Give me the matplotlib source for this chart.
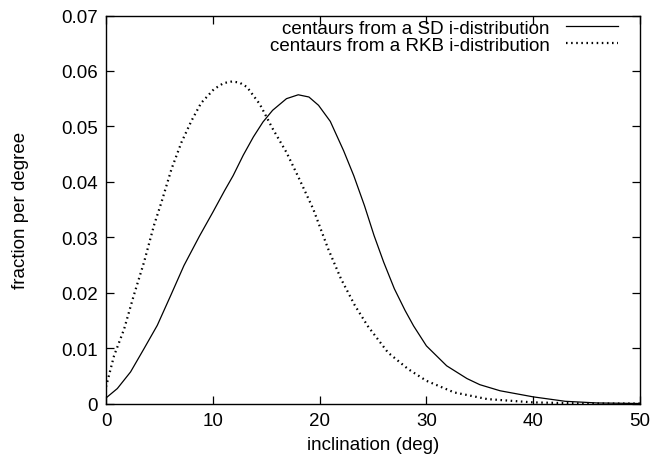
import numpy as np
import matplotlib.pyplot as plt

plt.rcParams['font.family'] = ['Liberation Sans', 'DejaVu Sans']

# values
sd_deg = [0, 1.06, 2.3, 3.56, 4.8, 6.06, 7.3, 8.75, 10, 11.1, 11.9, 12.85, 13.8, 14.7, 15.6,
          16.9, 18.0, 19.0, 19.9, 21.0, 22.25, 23.2, 24.2, 25.1, 26.0, 27.0, 28.0, 28.8, 30,
          31.9, 33.8, 35, 36.9, 40, 43, 46, 50]
sd_val = [0.0010, 0.0027, 0.0057, 0.0099, 0.0141, 0.0195, 0.0249, 0.0302, 0.0345, 0.0384,
          0.0411, 0.0448, 0.0481, 0.0508, 0.0529, 0.0550, 0.0557, 0.0553, 0.0538, 0.0509,
          0.0456, 0.0411, 0.0357, 0.0303, 0.0255, 0.0207, 0.0168, 0.0140, 0.0104, 0.0068,
          0.0045, 0.0034, 0.0023, 0.0012, 0.0004, 0.0001, 0.0]

rkb_deg = [0, 0.75, 1.69, 2.6, 3.56, 4.5, 5.19, 6.13, 7.06, 8.0, 8.9, 10.1, 11.0, 11.8, 12.5,
           13.2, 14.4, 15.6, 16.9, 18.1, 19.4, 20.8, 22.0, 23.3, 24.5, 26.4, 28.3, 30, 32.6,
           35.7, 40, 45, 50]
rkb_val = [0.0030, 0.0086, 0.0134, 0.0195, 0.0255, 0.0322, 0.0363, 0.0423, 0.0471, 0.0510,
           0.0542, 0.0567, 0.0578, 0.0581, 0.0579, 0.0571, 0.0540, 0.0496, 0.0453, 0.0405,
           0.0351, 0.0279, 0.0225, 0.0177, 0.0140, 0.0092, 0.0062, 0.0041, 0.0020, 0.0008,
           0.0002, 0.0, 0.0]

fs = 13.5

fig = plt.figure(figsize=(6.56, 4.64), dpi=100)
ax = fig.add_axes([0.1616, 0.1282, 0.8140, 0.8362])

ax.plot(sd_deg, sd_val, color='black', lw=0.9, label='centaurs from a SD i-distribution')
ax.plot(rkb_deg, rkb_val, color='black', lw=1.6, linestyle=(0, (0.7, 1.6)),
        label='centaurs from a RKB i-distribution')

ax.set_xlim(0, 50)
ax.set_ylim(0, 0.07)
ax.set_xticks([0, 10, 20, 30, 40, 50])
ax.set_yticks(np.arange(0, 0.0701, 0.01))
ax.set_yticklabels(['0', '0.01', '0.02', '0.03', '0.04', '0.05', '0.06', '0.07'])
ax.tick_params(direction='in', length=5.5, width=0.9, top=True, right=True,
               labelsize=fs, pad=6)
for s in ax.spines.values():
    s.set_linewidth(1.0)

ax.set_xlabel('inclination (deg)', fontsize=fs, labelpad=5)
ax.set_ylabel('fraction per degree', fontsize=fs, labelpad=23)

ax.legend(loc='upper right', frameon=False, markerfirst=False, fontsize=fs,
          handlelength=2.8, handletextpad=0.85, labelspacing=0.0,
          borderpad=0, borderaxespad=0, bbox_to_anchor=(0.959, 0.99))

fig.savefig('out.png', dpi=100)
